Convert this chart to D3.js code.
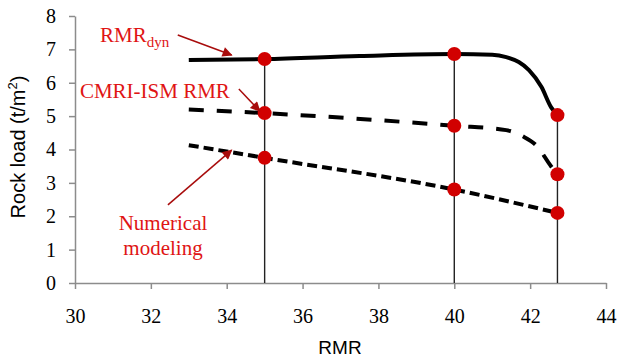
<!DOCTYPE html>
<html>
<head>
<meta charset="utf-8">
<script src="https://cdn.jsdelivr.net/npm/d3@7"></script>
<style>
  body { margin: 0; background: #fff; }
  svg { display: block; }
</style>
</head>
<body>
<div id="chart-area"></div>
<script>
// Data
var xTicks = [30, 32, 34, 36, 38, 40, 42, 44];
var yTicks = [0, 1, 2, 3, 4, 5, 6, 7, 8];

// curve points (x = RMR, y = rock load)
var dynX = [33, 35, 37.5, 40, 41.0, 41.37, 41.7, 41.97, 42.3, 42.55, 42.72];
var dynY = [6.68, 6.71, 6.8, 6.86, 6.84, 6.77, 6.62, 6.38, 5.87, 5.27, 5.03];

var cmriX = [33, 35, 40, 41.37, 41.8, 42.18, 42.55, 42.72];
var cmriY = [5.2, 5.09, 4.71, 4.58, 4.4, 4.1, 3.5, 3.26];

var numX = [33, 35, 40, 42.72];
var numY = [4.13, 3.75, 2.8, 2.1];

// marker points (only where the red dots are)
var markX = [35, 40, 42.72];
var markDyn = [6.71, 6.86, 5.03];
var markCmri = [5.09, 4.71, 3.26];
var markNum = [3.75, 2.8, 2.1];

var width = 620, height = 358;

var svg = d3.select("#chart-area")
  .append("svg")
    .attr("width", width)
    .attr("height", height);

var x = d3.scaleLinear().domain([30, 44]).range([75, 606]);
var y = d3.scaleLinear().domain([0, 8]).range([283, 16]);

var axisColor = "#8c8c8c";
var serif = "'Liberation Serif', 'Times New Roman', serif";
var sans = "'Liberation Sans', Arial, sans-serif";

// X axis
var xAxis = svg.append("g")
    .attr("transform", "translate(0," + y(0) + ")")
    .call(d3.axisBottom(x).tickValues(xTicks).tickSize(6).tickSizeOuter(0).tickPadding(20));
xAxis.select(".domain").attr("stroke", axisColor).attr("stroke-width", 1.5);
xAxis.selectAll(".tick line").attr("stroke", axisColor).attr("stroke-width", 1.5);
xAxis.selectAll(".tick text")
    .style("font-family", serif)
    .style("font-size", "20px")
    .attr("fill", "#000");

// Y axis
var yAxis = svg.append("g")
    .attr("transform", "translate(" + x(30) + ",0)")
    .call(d3.axisLeft(y).tickValues(yTicks).tickSize(6).tickSizeOuter(0).tickPadding(13));
yAxis.select(".domain").attr("stroke", axisColor).attr("stroke-width", 1.5);
yAxis.selectAll(".tick line").attr("stroke", axisColor).attr("stroke-width", 1.5);
yAxis.selectAll(".tick text")
    .style("font-family", serif)
    .style("font-size", "20px")
    .attr("fill", "#000");

// Axis titles
svg.append("text")
    .attr("x", 340)
    .attr("y", 354)
    .attr("text-anchor", "middle")
    .style("font-family", sans)
    .style("font-size", "19px")
    .attr("fill", "#000")
    .text("RMR");

var yt = svg.append("text")
    .attr("transform", "translate(25,147) rotate(-90)")
    .attr("text-anchor", "middle")
    .style("font-family", sans)
    .style("font-size", "20px")
    .attr("fill", "#000");
yt.append("tspan").text("Rock load (t/m");
yt.append("tspan").style("font-size", "13px").attr("dy", -8).text("2");
yt.append("tspan").attr("dy", 8).text(")");

// Vertical drop lines from top marker to the x axis
svg.selectAll(".drop")
  .data(markX)
  .enter().append("line")
    .attr("class", "drop")
    .attr("x1", function (d) { return x(d); })
    .attr("x2", function (d) { return x(d); })
    .attr("y1", function (d, i) { return y(markDyn[i]); })
    .attr("y2", y(0))
    .attr("stroke", "#222")
    .attr("stroke-width", 1.4);

// Lines
var line = d3.line()
    .x(function (d) { return x(d[0]); })
    .y(function (d) { return y(d[1]); })
    .curve(d3.curveMonotoneX);

function pairs(xs, ys) { return xs.map(function (v, i) { return [v, ys[i]]; }); }

svg.append("path")
    .datum(pairs(dynX, dynY))
    .attr("d", line)
    .attr("fill", "none")
    .attr("stroke", "#000")
    .attr("stroke-width", 4);

svg.append("path")
    .datum(pairs(cmriX, cmriY))
    .attr("d", line)
    .attr("fill", "none")
    .attr("stroke", "#000")
    .attr("stroke-width", 4)
    .attr("stroke-dasharray", "15,13");

svg.append("path")
    .datum(pairs(numX, numY))
    .attr("d", line)
    .attr("fill", "none")
    .attr("stroke", "#000")
    .attr("stroke-width", 4)
    .attr("stroke-dasharray", "10,5");

// Red markers
var dots = [].concat(pairs(markX, markDyn), pairs(markX, markCmri), pairs(markX, markNum));
svg.selectAll(".dot")
  .data(dots)
  .enter().append("circle")
    .attr("class", "dot")
    .attr("cx", function (d) { return x(d[0]); })
    .attr("cy", function (d) { return y(d[1]); })
    .attr("r", 7)
    .attr("fill", "#d10000");

// Annotations
var red = "#e01414", arrowRed = "#a80c0c";

svg.append("defs").append("marker")
    .attr("id", "arr")
    .attr("viewBox", "0 0 10 10")
    .attr("refX", 9).attr("refY", 5)
    .attr("markerWidth", 12).attr("markerHeight", 10)
    .attr("markerUnits", "userSpaceOnUse")
    .attr("orient", "auto")
  .append("path")
    .attr("d", "M0,0 L10,5 L0,10 Z")
    .attr("fill", arrowRed);

var arrows = [
  [32.71, 7.43, 34.13, 6.83],
  [34.32, 5.81, 34.87, 5.15],
  [32.45, 2.34, 34.13, 3.98]
];
svg.selectAll(".arrow")
  .data(arrows)
  .enter().append("line")
    .attr("class", "arrow")
    .attr("x1", function (d) { return x(d[0]); })
    .attr("y1", function (d) { return y(d[1]); })
    .attr("x2", function (d) { return x(d[2]); })
    .attr("y2", function (d) { return y(d[3]); })
    .attr("stroke", arrowRed)
    .attr("stroke-width", 1.5)
    .attr("marker-end", "url(#arr)");

var t1 = svg.append("text")
    .attr("x", x(30.66)).attr("y", y(7.22))
    .style("font-family", serif).style("font-size", "21px").attr("fill", red);
t1.append("tspan").text("RMR");
t1.append("tspan").style("font-size", "15px").attr("dy", 5).text("dyn");

svg.append("text")
    .attr("x", x(30.13)).attr("y", y(5.54))
    .style("font-family", serif).style("font-size", "21px").attr("fill", red)
    .text("CMRI-ISM RMR");

svg.append("text")
    .attr("x", x(32.32)).attr("y", y(1.59))
    .attr("text-anchor", "middle")
    .style("font-family", serif).style("font-size", "21px").attr("fill", red)
    .text("Numerical");
svg.append("text")
    .attr("x", x(32.32)).attr("y", y(0.84))
    .attr("text-anchor", "middle")
    .style("font-family", serif).style("font-size", "21px").attr("fill", red)
    .text("modeling");
</script>
</body>
</html>
